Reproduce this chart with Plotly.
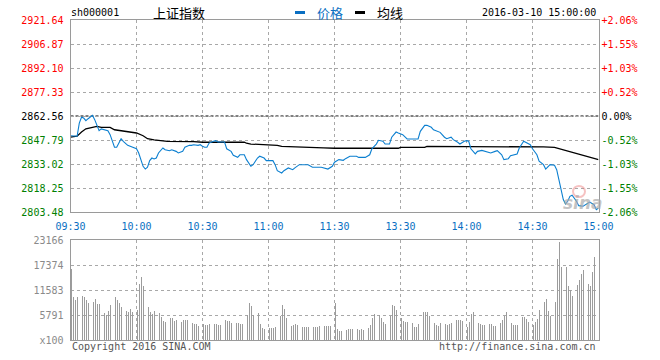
import plotly.graph_objects as go

W, H = 660, 360
def px(x): return x / W
def py(y): return 1 - y / H

# ---------------- data ----------------
prev_close = 2862.56
price_ticks = [2803.48, 2818.25, 2833.02, 2847.79, 2862.56, 2877.33, 2892.10, 2906.87, 2921.64]
pct_labels = ["-2.06%", "-1.55%", "-1.03%", "-0.52%", "0.00%", "+0.52%", "+1.03%", "+1.55%", "+2.06%"]
time_ticks = [0, 30, 60, 90, 120, 150, 180, 210, 240]
time_labels = ["09:30", "10:00", "10:30", "11:00", "11:30", "13:30", "14:00", "14:30", "15:00"]
vol_ticks = [0, 5791, 11583, 17374, 23166]
vol_labels = ["x100", "5791", "11583", "17374", "23166"]

price_t = [0, 3, 4, 5, 6, 7, 8, 10, 11, 12, 13, 14, 16, 17, 18, 19, 20, 21, 22, 23, 24, 26, 28,
           30, 31, 32, 33, 34, 35, 36, 37, 38, 39, 40, 42, 43, 45, 46, 48, 49, 51, 52, 54, 55, 56,
           58, 59, 60, 61, 62, 63, 65, 66, 67, 70, 71, 73, 74, 76, 77, 79, 80, 82, 83, 85, 86, 88,
           89, 92, 93, 94, 96, 97, 99, 101, 102, 104, 108, 110, 114, 117, 119, 120,
           122, 124, 125, 127, 130, 131, 134, 136, 137, 139, 140, 142, 143, 145, 146, 148, 149,
           151, 153, 158, 159, 161, 162, 164, 165, 168, 170, 171, 173, 174, 176, 177, 179, 180,
           181, 182, 184, 185, 187, 189, 191, 193, 194, 196, 197, 199, 200, 203, 204, 206, 207,
           209, 210, 212, 213, 215, 216, 217, 218, 220, 221, 222, 223, 224, 225, 226, 227, 228,
           230, 231, 233, 234, 236, 238, 239, 240]
price_v = [2850.4, 2850.1, 2858.2, 2861.8, 2861.3, 2859.7, 2860.9, 2863.0, 2860.3, 2857.2, 2853.5,
           2854.6, 2853.8, 2853.5, 2851.1, 2847.0, 2843.3, 2843.3, 2846.0, 2848.6, 2847.0, 2844.5,
           2843.5, 2842.4, 2839.8, 2835.7, 2831.6, 2829.9, 2831.0, 2835.1, 2836.7, 2836.1, 2836.7,
           2839.8, 2842.9, 2841.8, 2841.2, 2841.8, 2840.8, 2839.8, 2840.8, 2843.3, 2844.5, 2844.5,
           2844.9, 2844.5, 2844.9, 2843.9, 2843.3, 2843.3, 2845.9, 2847.0, 2847.4, 2846.6, 2846.6,
           2842.4, 2840.8, 2838.4, 2837.1, 2838.7, 2838.7, 2835.7, 2831.6, 2832.6, 2836.7, 2837.8,
           2836.7, 2835.1, 2835.1, 2832.6, 2828.9, 2827.5, 2828.9, 2830.6, 2829.5, 2830.6, 2832.6,
           2832.6, 2831.0, 2831.0, 2829.9, 2831.6, 2834.1,
           2835.7, 2835.3, 2836.3, 2837.8, 2837.8, 2837.1, 2837.1, 2838.7, 2842.4, 2845.3, 2847.6,
           2847.0, 2845.3, 2845.3, 2849.5, 2852.7, 2852.1, 2851.1, 2848.4, 2848.4, 2853.1, 2856.8,
           2856.8, 2855.6, 2854.1, 2852.5, 2849.5, 2848.6, 2849.5, 2848.0, 2846.4, 2845.3, 2847.0,
           2847.4, 2847.0, 2842.4, 2839.2, 2840.8, 2841.4, 2840.8, 2839.8, 2840.8, 2841.2, 2838.7,
           2835.7, 2836.3, 2838.1, 2839.2, 2842.9, 2847.0, 2846.4, 2844.9, 2842.4, 2838.7, 2834.7,
           2832.6, 2829.9, 2831.0, 2832.6, 2832.2, 2829.5, 2823.4, 2816.2, 2811.1, 2808.4, 2810.1,
           2813.1, 2813.8, 2810.1, 2807.4, 2807.0, 2808.0, 2809.6, 2808.0, 2804.9, 2805.9]

avg_t = [0, 3, 5, 7, 10, 12, 14, 18, 20, 23, 27, 30, 33, 35, 38, 44, 56, 60, 79, 80, 82, 92, 94,
         96, 104, 115, 120, 149, 150, 161, 162, 213, 215, 220, 223, 226, 231, 234, 237, 240]
avg_v = [2849.5, 2850.1, 2852.7, 2854.7, 2855.6, 2856.2, 2855.6, 2855.6, 2854.1, 2853.5, 2853.1,
         2852.1, 2850.4, 2848.6, 2847.8, 2847.0, 2846.8, 2846.4, 2846.4, 2845.8, 2845.3, 2844.9,
         2844.5, 2843.9, 2843.3, 2842.9, 2842.7, 2842.7, 2843.3, 2843.3, 2843.9, 2843.9, 2843.5,
         2843.3, 2842.2, 2840.8, 2839.2, 2837.8, 2837.1, 2835.7]

volume = [
    16400, 9960, 9260, 9960, 11000, 10300, 9960, 9260, 8500, 8700,
    8900, 9500, 8300, 8300, 7300, 6200, 5900, 6700, 8100, 9000,
    9960, 9260, 8500, 7700, 6900, 6700, 6600, 7200, 6600, 6400,
    6900, 12970, 14670, 12580, 9650, 7700, 6560, 6000, 6700, 6400,
    6200, 5400, 4400, 4100, 4100, 5000, 5000, 4400, 4600, 4500,
    4200, 4600, 4600, 4600, 4200, 3900, 3700, 3600, 3200, 3300,
    3800, 3500, 3500, 3600, 3700, 3800, 3700, 3500, 3500, 4000,
    4600, 4300, 4400, 3900, 3900, 3900, 3900, 3800, 3700, 4100,
    5800, 8500, 7900, 5800, 5000, 6200, 3700, 2700, 2500, 3100,
    2800, 2700, 2700, 2900, 3300, 5500, 8100, 7200, 5000, 3900,
    3300, 3500, 3700, 3500, 3000, 3000, 3000, 3000, 3000, 3000,
    3000, 3000, 2900, 3200, 3100, 3300, 3300, 3200, 3300, 3500,
    8650, 2500, 2100, 2100, 2200, 2400, 2500, 2500, 2500, 2400,
    2500, 2400, 2500, 2400, 2500, 2800, 3500, 5000, 6000, 6400,
    5900, 5000, 4100, 3600, 4200, 5600, 8100, 7900, 6900, 5300,
    5000, 4400, 4200, 4200, 3600, 3900, 3100, 3100, 3600, 5000,
    6600, 6600, 6400, 5600, 4400, 3900, 3500, 3300, 3900, 4200,
    3600, 3400, 3600, 4000, 4500, 4700, 4700, 4600, 4400, 3500,
    2900, 4200, 6000, 6500, 5300, 4000, 3800, 3500, 3500, 3300,
    3600, 3600, 3300, 3200, 3100, 3900, 4600, 5600, 6400, 5000,
    3900, 3400, 3400, 3500, 4200, 5300, 5400, 4800, 4200, 3900,
    3400, 4200, 4900, 6900, 7900, 8700, 9400, 6800, 5600, 6300,
    8700, 18800, 22800, 17000, 23166, 17000, 12600, 11600, 10300, 11800,
    12700, 14000, 15400, 16200, 17400, 12900, 12500, 15800, 19300, 20700]
vol_t = list(range(len(volume)))

# ---------------- styles ----------------
MONO = "DejaVu Sans Mono"
CJK = "Noto Sans CJK SC"
BLUE_LINE = "#0b7fd0"
BLUE_TXT = "#0a6fc2"
GRID = "#a8a8a8"
FRAME = "#9a9a9a"

def lvl_color(p):
    if abs(p - prev_close) < 1e-6:
        return "#000000"
    return "#ff0000" if p > prev_close else "#008000"

left_text = ['<span style="color:%s">%.2f</span>' % (lvl_color(p), p) for p in price_ticks]
right_text = ['<span style="color:%s">%s</span>' % (lvl_color(p), s) for p, s in zip(price_ticks, pct_labels)]

fig = go.Figure()
fig.add_trace(go.Bar(x=vol_t, y=volume, width=0.42, offset=0.12,
                     marker=dict(color="#9c9c9c", line=dict(width=0)),
                     xaxis="x2", yaxis="y2", hoverinfo="skip"))
fig.add_trace(go.Scatter(x=avg_t, y=avg_v, mode="lines", line=dict(color="#000000", width=1.3),
                         xaxis="x", yaxis="y", hoverinfo="skip"))
fig.add_trace(go.Scatter(x=price_t, y=price_v, mode="lines", line=dict(color=BLUE_LINE, width=1.1),
                         xaxis="x", yaxis="y", hoverinfo="skip"))
fig.add_trace(go.Scatter(x=[0], y=[prev_close], mode="markers", marker=dict(opacity=0),
                         xaxis="x", yaxis="y3", hoverinfo="skip"))

xdom = [px(70.5), px(598.5)]
common_x = dict(range=[0, 240], tickvals=time_ticks, showgrid=True, gridcolor=GRID, griddash="dot",
                gridwidth=1, showline=True, mirror=True, linecolor=FRAME, linewidth=1, zeroline=False,
                domain=xdom, fixedrange=True, automargin=False)

fig.update_layout(
    width=W, height=H, autosize=False, showlegend=False,
    margin=dict(l=0, r=0, t=0, b=0, pad=0),
    paper_bgcolor="white", plot_bgcolor="white",
    bargap=0,
    xaxis=dict(common_x, anchor="y", ticktext=time_labels, ticks="", ticklabelstandoff=5,
               tickfont=dict(family=MONO, size=10, color=BLUE_TXT)),
    xaxis2=dict(common_x, anchor="y2", showticklabels=False, ticks=""),
    yaxis=dict(domain=[py(212), py(20)], range=[price_ticks[0], price_ticks[-1]], tickvals=price_ticks,
               ticktext=left_text, ticks="", ticklabelstandoff=4, showgrid=True, gridcolor=GRID,
               griddash="dot", showline=True, mirror=True, linecolor=FRAME, zeroline=False,
               tickfont=dict(family=MONO, size=10), anchor="x", automargin=False, fixedrange=True),
    yaxis3=dict(overlaying="y", side="right", anchor="x", range=[price_ticks[0], price_ticks[-1]],
                tickvals=price_ticks, ticktext=right_text, ticks="", ticklabelstandoff=2,
                showgrid=False, zeroline=False, tickfont=dict(family=MONO, size=10), automargin=False,
                fixedrange=True),
    yaxis2=dict(domain=[py(340), py(240)], range=[0, vol_ticks[-1]], tickvals=vol_ticks, ticktext=vol_labels,
                ticks="", ticklabelstandoff=4, showgrid=True, gridcolor=GRID, griddash="dot",
                showline=True, mirror=True, linecolor=FRAME, zeroline=False, anchor="x2",
                tickfont=dict(family=MONO, size=10, color="#8a8a8a"), automargin=False, fixedrange=True),
)

# previous-close dashed reference line
fig.add_shape(type="line", xref="x", yref="y", x0=0, x1=240, y0=prev_close, y1=prev_close,
              line=dict(color="#000000", width=1, dash="3px,2px"), layer="below")

# legend marks
fig.add_shape(type="line", xref="paper", yref="paper", x0=px(295), x1=px(305), y0=py(12.5), y1=py(12.5),
              line=dict(color=BLUE_TXT, width=3))
fig.add_shape(type="line", xref="paper", yref="paper", x0=px(355), x1=px(365), y0=py(12.5), y1=py(12.5),
              line=dict(color="#000000", width=3))

def ann(text, x, y, size=10, color="#000", family=MONO, xanchor="left", **kw):
    fig.add_annotation(text=text, x=px(x), y=py(y), xref="paper", yref="paper", showarrow=False,
                       xanchor=xanchor, yanchor="middle", font=dict(family=family, size=size, color=color), **kw)

ann("sh000001", 69, 13)
ann("上证指数", 151, 12.5, size=13, family=CJK)
ann("价格", 315, 12.5, size=13, family=CJK, color=BLUE_TXT)
ann("均线", 375, 12.5, size=13, family=CJK)
ann("2016-03-10 15:00:00", 597.5, 13, xanchor="right")
ann("Copyright 2016 SINA.COM", 69.5, 346, color="#555555")
ann("http://finance.sina.com.cn", 597.5, 346, color="#555555", xanchor="right")

# faint sina watermark
fig.add_shape(type="circle", xref="paper", yref="paper", x0=px(573), x1=px(585), y0=py(197), y1=py(186),
              line=dict(color="rgba(235,120,120,0.45)", width=2), fillcolor="rgba(0,0,0,0)")
ann("<b><i>sina</i></b>", 561, 203, size=17, family="DejaVu Sans", color="rgba(170,170,170,0.7)")

fig.write_html("out.html", config={"displayModeBar": False, "staticPlot": True},
               post_script="document.body.style.margin='0px';")
